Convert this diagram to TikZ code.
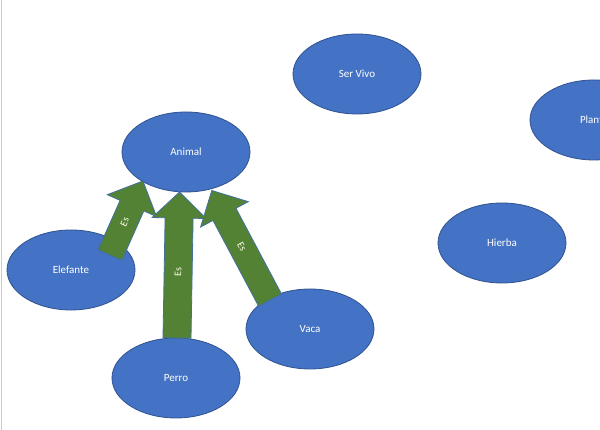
\documentclass[tikz,border=0pt]{standalone}
\usepackage{fontspec}
\setmainfont{Carlito}
\usetikzlibrary{shapes.geometric}
\begin{document}
\begin{tikzpicture}[x=1pt,y=1pt,
  ell/.style={ellipse,draw=ebord,fill=efill,line width=0.8pt,minimum width=128pt,minimum height=80pt,text=white,font=\fontsize{11}{13}\selectfont,inner sep=0pt},
  lab/.style={text=white!90!yellow,font=\fontsize{10}{12}\selectfont,inner sep=0pt},
  blk/.style={fill=afill,draw=abord,line width=0.8pt}]
\definecolor{efill}{HTML}{4472C4}
\definecolor{ebord}{HTML}{2F528F}
\definecolor{afill}{HTML}{548235}
\definecolor{abord}{HTML}{41719C}
\useasboundingbox (0,0) rectangle (600,430);
\fill[white] (0,0) rectangle (600,430);
\draw[gray!40,line width=1pt] (1.5,0) -- (1.5,430);
\begin{scope}
\clip (0,0) rectangle (600,430);
\node[ell] (servivo) at (357,356) {Ser Vivo};
\node[ell] (planta) at (594,310) {Planta};
\node[ell] (animal) at (186,278) {Animal};
\node[ell] (elefante) at (71,160) {Elefante};
\node[ell] (hierba) at (502,187) {Hierba};
\node[ell] (vaca) at (310,101) {Vaca};
\node[ell] (perro) at (176,52) {Perro};
\end{scope}
\coordinate (e0) at (110,175); \coordinate (p0) at (177,92); \coordinate (v0) at (270,130);
\begin{scope}[shift={(e0)},rotate=66]
\draw[blk] (0,-13) -- (54,-13) -- (54,-27) -- (81,0) -- (54,27) -- (54,13) -- (0,13) -- cycle;
\node[lab,rotate=66] (es1) at (36,0) {Es};
\end{scope}
\begin{scope}[shift={(p0)},rotate=89]
\draw[blk] (0,-14) -- (120,-14) -- (120,-27) -- (146,0) -- (120,27) -- (120,14) -- (0,14) -- cycle;
\node[lab,rotate=89] (es2) at (66,0) {Es};
\end{scope}
\begin{scope}[shift={(v0)},rotate=118]
\draw[blk] (0,-13) -- (97,-13) -- (97,-27) -- (124,0) -- (97,27) -- (97,13) -- (0,13) -- cycle;
\node[lab,rotate=-62] (es3) at (60,0) {Es};
\end{scope}
\end{tikzpicture}
\end{document}
